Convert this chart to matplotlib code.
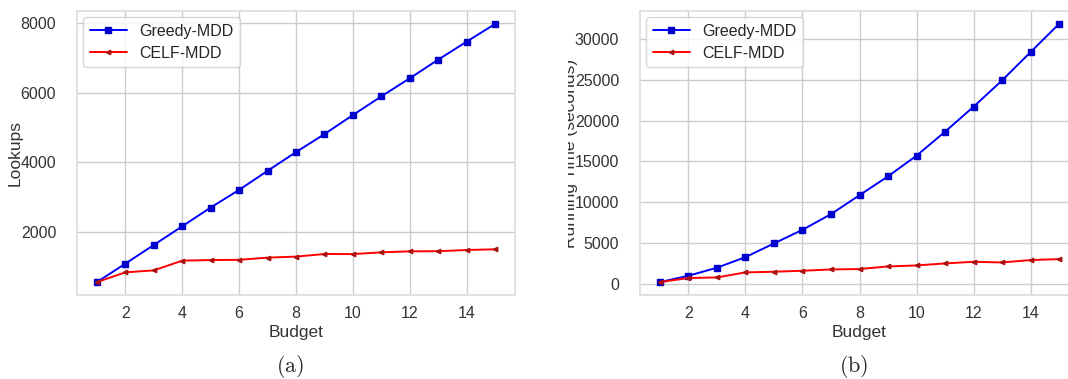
import numpy as np
import matplotlib
matplotlib.use("Agg")
import matplotlib.pyplot as plt
import seaborn as sns
from matplotlib.transforms import Bbox, TransformedBbox

sns.set_theme(style="whitegrid")
plt.rcParams['font.family'] = ['Liberation Sans', 'DejaVu Sans']

budget = [1, 2, 3, 4, 5, 6, 7, 8, 9, 10, 11, 12, 13, 14, 15]

# (a) lookups
greedy_lookups = [560, 1090, 1626, 2164, 2703, 3210, 3757, 4295, 4813, 5360,
                  5898, 6417, 6953, 7470, 7980]
celf_lookups = [560, 840, 897, 1176, 1194, 1200, 1263, 1292, 1367, 1365,
                1415, 1444, 1448, 1482, 1502]

# (b) running time (seconds)
greedy_time = [200, 980, 1960, 3260, 4940, 6610, 8530, 10860, 13170, 15700,
               18640, 21700, 24930, 28400, 31860]
celf_time = [200, 700, 770, 1390, 1470, 1590, 1750, 1800, 2120, 2240,
             2490, 2690, 2610, 2900, 3020]

W, H = 1068, 379
fig = plt.figure(figsize=(W / 100, H / 100), dpi=100)

ax1 = fig.add_axes([77 / W, (H - 295) / H, 438 / W, 284 / H])
ax2 = fig.add_axes([640 / W, (H - 295) / H, 439 / W, 284 / H])

for ax, g, c in [(ax1, greedy_lookups, celf_lookups), (ax2, greedy_time, celf_time)]:
    ax.plot(budget, g, color='blue', marker='s', markersize=4.2,
            markerfacecolor='#0000cc', markeredgecolor='#0000cc',
            linewidth=1.4, label='Greedy-MDD')
    ax.plot(budget, c, color='red', marker='<', markersize=3.2,
            markerfacecolor='#aa1111', markeredgecolor='#aa1111',
            linewidth=1.4, label='CELF-MDD')
    ax.set_xticks([2, 4, 6, 8, 10, 12, 14])
    ax.tick_params(axis='both', labelsize=11.5, colors='#333333')
    ax.tick_params(axis='y', pad=9)
    ax.tick_params(axis='x', pad=2)
    ax.set_xlabel('Budget', fontsize=12.5, labelpad=3, color='#333333')
    ax.legend(loc='upper left', fontsize=11.5, handlelength=2.3,
              borderaxespad=0.4, labelspacing=0.45)
    for s in ax.spines.values():
        s.set_color('#dddddd')

ax1.set_yticks([2000, 4000, 6000, 8000])
ax2.set_yticks([0, 5000, 10000, 15000, 20000, 25000, 30000])

ax1.set_ylabel('Lookups', fontsize=12.5, color='#333333')
ax1.yaxis.set_label_coords((23 - 77) / 438, 0.5)

lab = ax2.set_ylabel('Running Time (seconds)', fontsize=12.5, color='#333333')
ax2.yaxis.set_label_coords((578 - 640) / 439, 0.5)
lab.set_clip_box(TransformedBbox(Bbox([[568 / W, 0], [1, 1]]), fig.transFigure))
lab.set_clip_on(True)

fig.text(290 / W, 1 - 367 / H, r'$\mathrm{(a)}$', fontsize=16, ha='center',
         va='center', math_fontfamily='cm')
fig.text(854 / W, 1 - 367 / H, r'$\mathrm{(b)}$', fontsize=16, ha='center',
         va='center', math_fontfamily='cm')

fig.savefig('out.png', dpi=100)
